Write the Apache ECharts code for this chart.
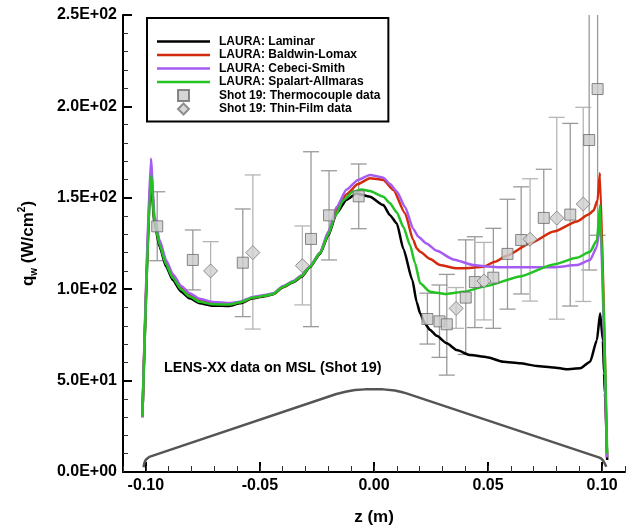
<!DOCTYPE html>
<html>
<head>
<meta charset="utf-8">
<script src="https://cdn.jsdelivr.net/npm/echarts@6/dist/echarts.min.js"></script>
<style>
  html, body { margin: 0; padding: 0; background: #fff; }
  #chart { width: 626px; height: 529px; }
</style>
</head>
<body>
<div id="chart"></div>
<script>
// Axis ticks
const xTicks = [-0.10, -0.05, 0.00, 0.05, 0.10];
const xMinorTicks = [-0.11, -0.10, -0.09, -0.08, -0.07, -0.06, -0.05, -0.04, -0.03, -0.02, -0.01, 0.00,
                     0.01, 0.02, 0.03, 0.04, 0.05, 0.06, 0.07, 0.08, 0.09, 0.10, 0.11];
const yTicks = [0, 50, 100, 150, 200, 250];

// LAURA heating predictions along the MSL centerline, [z (m), q_w (W/cm^2)]
const laminar = [
  [-0.1015, 30], [-0.0978, 160], [-0.0962, 136], [-0.0940, 123.3], [-0.0911, 112.3], [-0.0882, 105],
  [-0.0845, 98.6], [-0.0808, 95], [-0.0764, 92.3], [-0.0706, 91], [-0.0633, 90.8], [-0.0588, 92.3],
  [-0.0529, 95], [-0.0471, 96.3], [-0.0442, 97.2], [-0.0398, 101], [-0.0354, 103.8], [-0.0317, 106.8],
  [-0.0281, 112], [-0.0237, 119.3], [-0.0200, 129.5], [-0.0164, 141.5], [-0.0120, 149], [-0.0076, 152.4],
  [-0.0018, 150.6], [0.0041, 146], [0.0070, 140.5], [0.0100, 136], [0.0129, 122], [0.0168, 105],
  [0.0187, 93], [0.0202, 86.8], [0.0224, 81], [0.0246, 77.7], [0.0275, 74.5], [0.0319, 70.4],
  [0.0363, 66.7], [0.0421, 64], [0.0495, 62.8], [0.0567, 60.3], [0.0640, 59.5], [0.0714, 58],
  [0.0787, 57.2], [0.0845, 56.2], [0.0904, 56.7], [0.0947, 60.3], [0.0977, 72.2], [0.0991, 86.8],
  [0.1003, 72], [0.1008, 54], [0.1012, 43], [0.1022, 6.6]
];
const baldwinLomax = [
  [-0.1015, 30], [-0.0978, 166], [-0.0962, 138.5], [-0.0940, 125.5], [-0.0911, 114.5], [-0.0882, 107.2],
  [-0.0845, 100.8], [-0.0808, 97], [-0.0764, 94], [-0.0706, 92.4], [-0.0633, 91.8], [-0.0588, 92.8],
  [-0.0529, 95.4], [-0.0471, 96.6], [-0.0442, 97.5], [-0.0398, 101.4], [-0.0354, 104.2], [-0.0317, 107.2],
  [-0.0281, 112.4], [-0.0237, 119.8], [-0.0200, 130.5], [-0.0164, 143.5], [-0.0120, 152], [-0.0070, 157.5],
  [-0.0018, 160.7], [0.0041, 159.8], [0.0085, 154.3], [0.0136, 141.5], [0.0172, 126.9], [0.0187, 122.4],
  [0.0202, 120.5], [0.0246, 116.5], [0.0289, 113.2], [0.0363, 111.4], [0.0420, 111.6], [0.0479, 112.3],
  [0.0530, 115], [0.0582, 118.3], [0.0684, 125.1], [0.0787, 131.5], [0.0889, 137], [0.0940, 140.8],
  [0.0962, 143], [0.0980, 148.8], [0.0990, 163.5], [0.1021, 8]
];
const cebeciSmith = [
  [-0.1015, 30], [-0.0978, 171.5], [-0.0962, 140], [-0.0940, 127], [-0.0911, 115.8], [-0.0882, 108.3],
  [-0.0845, 101.8], [-0.0808, 97.8], [-0.0764, 94.8], [-0.0706, 93], [-0.0633, 92.4], [-0.0588, 93.2],
  [-0.0529, 95.8], [-0.0471, 97], [-0.0442, 97.8], [-0.0398, 101.7], [-0.0354, 104.5], [-0.0317, 107.6],
  [-0.0281, 112.6], [-0.0237, 120], [-0.0200, 131.5], [-0.0164, 145], [-0.0120, 154.5], [-0.0070, 159.8],
  [-0.0018, 162.5], [0.0041, 161], [0.0070, 157.5], [0.0100, 153.5], [0.0136, 145], [0.0172, 133],
  [0.0194, 128.7], [0.0230, 125], [0.0275, 121], [0.0348, 116.3], [0.0436, 113.2], [0.0494, 112.4],
  [0.0567, 112], [0.0714, 112], [0.0787, 112], [0.0889, 113.2], [0.0947, 116], [0.0977, 123.2],
  [0.0991, 138], [0.1021, 8]
];
const spalartAllmaras = [
  [-0.1015, 30.3], [-0.0977, 162.5], [-0.0962, 137.3], [-0.0940, 124.5], [-0.0911, 113.5], [-0.0882, 106.2],
  [-0.0845, 99.8], [-0.0808, 96], [-0.0764, 93.1], [-0.0706, 91.7], [-0.0632, 91.6], [-0.0588, 92.8],
  [-0.0529, 95.4], [-0.0471, 96.5], [-0.0442, 97.4], [-0.0398, 101.4], [-0.0354, 104.1], [-0.0317, 107.2],
  [-0.0281, 112.3], [-0.0237, 119.6], [-0.0200, 130], [-0.0171, 139.7], [-0.0135, 148.5], [-0.0093, 153.3],
  [-0.0054, 154.6], [-0.0018, 153.7], [0.0041, 150.6], [0.0070, 147], [0.0100, 142], [0.0129, 134],
  [0.0158, 124], [0.0180, 114.2], [0.0202, 103.2], [0.0246, 98.6], [0.0275, 98], [0.0319, 97.4],
  [0.0392, 98.6], [0.0494, 101.8], [0.0640, 107], [0.0787, 113.5], [0.0889, 117.2], [0.0947, 120.5],
  [0.0977, 126.9], [0.0991, 146], [0.1022, 10]
];

// Model outline sketched under the data (same axes): straight flanks, rounded nose and shoulders
const bodyOutline = [
  [-0.1010, 2.6], [-0.1006, 5.0], [-0.1000, 6.7], [-0.0993, 7.7], [-0.0985, 8.3],
  [-0.0165, 42.7], [-0.0120, 44.0], [-0.0083, 44.8], [-0.0040, 45.2], [0.0003, 45.3], [0.0040, 45.2],
  [0.0092, 44.6], [0.0120, 43.8], [0.0142, 43.0],
  [0.0985, 8.0], [0.0995, 7.4], [0.1004, 6.2], [0.1012, 4.5], [0.1018, 2.9]
];

// Shot 19 measurements, [z, q_w, lower, upper]
const thermocouple = [
  [-0.0950, 134.4, 115.6, 153.3], [-0.0794, 116.0, 99.6, 132.4], [-0.0575, 114.5, 85.0, 143.9],
  [-0.0276, 127.5, 79.5, 175.2], [-0.0197, 140.4, 116.0, 164.8], [-0.0067, 150.8, 133.1, 168.5],
  [0.0234, 83.7, 70.0, 97.8], [0.0287, 82.4, 62.7, 102.3], [0.0319, 80.8, 53.0, 108.1],
  [0.0402, 95.4, 64.3, 127.0], [0.0442, 103.9, 79.0, 128.7], [0.0523, 106.3, 78.6, 133.3],
  [0.0585, 119.3, 89.1, 149.2], [0.0645, 126.9, 97.4, 156.0], [0.0744, 139.0, 112.0, 165.6],
  [0.0860, 140.8, 90.8, 190.7], [0.0943, 181.6, 110.5, 300.0], [0.0980, 209.5, 129.5, 300.0]
];
const thinFilm = [
  [-0.0716, 110.0, 93.0, 126.0], [-0.0531, 120.0, 78.2, 162.5], [-0.0314, 112.9, 91.4, 134.6],
  [0.0360, 89.5, 78.6, 100.9], [0.0482, 104.5, 83.2, 125.6], [0.0684, 127.3, 93.5, 160.4],
  [0.0801, 138.9, 83.6, 194.0], [0.0917, 146.6, 93.3, 199.5]
];

const FONT = '"Liberation Sans", Arial, Helvetica, sans-serif';

// Legend glyphs: a plain stroke for the solutions, small markers for the measurements
const LINE_ICON = 'path://M0,0L100,0L100,4.7L0,4.7Z';
const SQUARE_ICON = 'path://M0,0L10,0L10,10L0,10Z';
const DIAMOND_ICON = 'path://M5,0L10,5L5,10L0,5Z';

function sciLabel(v) {
  if (v === 0) return '0.0E+00';
  const e = Math.floor(Math.log10(Math.abs(v)) + 1e-9);
  const m = v / Math.pow(10, e);
  return m.toFixed(1) + 'E' + (e < 0 ? '-' : '+') + String(Math.abs(e)).padStart(2, '0');
}

function errorBars(color) {
  return function (params, api) {
    const z = api.value(0);
    const top = api.coord([z, api.value(3)]);
    const bot = api.coord([z, api.value(2)]);
    const half = 8;
    const style = { stroke: color, lineWidth: 1.3, fill: null };
    return {
      type: 'group',
      children: [
        { type: 'line', shape: { x1: top[0], y1: top[1], x2: bot[0], y2: bot[1] }, style: style },
        { type: 'line', shape: { x1: top[0] - half, y1: top[1], x2: top[0] + half, y2: top[1] }, style: style },
        { type: 'line', shape: { x1: bot[0] - half, y1: bot[1], x2: bot[0] + half, y2: bot[1] }, style: style }
      ]
    };
  };
}

function curve(name, data, color) {
  return {
    name: name, type: 'line', data: data, symbol: 'none',
    smooth: 0.2, smoothMonotone: 'x',
    lineStyle: { color: color, width: 2.5 }, itemStyle: { color: color }, z: 3
  };
}

const chart = echarts.init(document.getElementById('chart'), null, { renderer: 'canvas' });
chart.setOption({
  animation: false,
  backgroundColor: '#fff',
  grid: { left: 123, right: 1, top: 15, bottom: 57, outerBoundsMode: 'none', containLabel: false },
  legend: {
    orient: 'vertical', left: 147, top: 18,
    padding: [17, 8, 6, 10], itemGap: 0.5, itemWidth: 53, itemHeight: 11,
    symbolKeepAspect: true,
    backgroundColor: '#fff', borderColor: '#000', borderWidth: 2, borderRadius: 0,
    textStyle: { fontFamily: FONT, fontWeight: 'bold', fontSize: 12, lineHeight: 13, color: '#000', padding: [0, 0, 0, 4] },
    data: [
      { name: 'LAURA: Laminar', icon: LINE_ICON },
      { name: 'LAURA: Baldwin-Lomax', icon: LINE_ICON },
      { name: 'LAURA: Cebeci-Smith', icon: LINE_ICON },
      { name: 'LAURA: Spalart-Allmaras', icon: LINE_ICON },
      { name: 'Shot 19: Thermocouple data', icon: SQUARE_ICON },
      { name: 'Shot 19: Thin-Film data', icon: DIAMOND_ICON }
    ],
    z: 20
  },
  xAxis: [{
    type: 'value', min: -0.11, max: 0.11, position: 'bottom',
    axisLine: { show: true, onZero: false, lineStyle: { color: '#000', width: 2 } },
    axisTick: { show: true, inside: true, length: 10, customValues: xTicks, lineStyle: { color: '#000', width: 2 } },
    axisLabel: { customValues: xTicks, formatter: v => v.toFixed(2), fontFamily: FONT, fontWeight: 'bold', fontSize: 16, color: '#000', margin: 6 },
    splitLine: { show: false },
    name: 'z (m)', nameLocation: 'middle', nameGap: 37,
    nameTextStyle: { fontFamily: FONT, fontWeight: 'bold', fontSize: 17, color: '#000' }
  }, {
    type: 'value', min: -0.11, max: 0.11, position: 'bottom',
    axisLine: { show: false },
    axisTick: { show: true, inside: true, length: 6, customValues: xMinorTicks, lineStyle: { color: '#333', width: 1 } },
    axisLabel: { show: false },
    splitLine: { show: false }
  }],
  yAxis: {
    type: 'value', min: 0, max: 250, interval: 50,
    axisLine: { show: true, onZero: false, lineStyle: { color: '#000', width: 2 } },
    axisTick: { show: true, inside: true, length: 9, lineStyle: { color: '#000', width: 2 } },
    minorTick: { show: true, splitNumber: 5, length: 5, lineStyle: { color: '#333', width: 1 } },
    axisLabel: { formatter: sciLabel, fontFamily: FONT, fontWeight: 'bold', fontSize: 16, color: '#000', margin: 6 },
    splitLine: { show: false },
    name: '{t|q}{sub|w}{t| (W/cm}{sup|2}{t|)}',
    nameLocation: 'middle', nameGap: 84,
    nameTextStyle: {
      fontFamily: FONT, fontWeight: 'bold', color: '#000',
      rich: {
        t: { fontFamily: FONT, fontWeight: 'bold', fontSize: 17, lineHeight: 22, color: '#000' },
        sub: { fontFamily: FONT, fontWeight: 'bold', fontSize: 10, verticalAlign: 'bottom', color: '#000' },
        sup: { fontFamily: FONT, fontWeight: 'bold', fontSize: 10, verticalAlign: 'top', color: '#000' }
      }
    }
  },
  graphic: [{
    type: 'text', left: 164, top: 361, z: 10,
    style: { text: 'LENS-XX data on MSL (Shot 19)', font: 'bold 14.4px ' + FONT, fill: '#000' }
  }],
  series: [
    {
      name: 'thermocouple-error', type: 'custom', data: thermocouple, encode: { x: 0, y: 1 },
      renderItem: errorBars('#9a9a9a'), clip: true, z: 1, silent: true
    },
    {
      name: 'thinfilm-error', type: 'custom', data: thinFilm, encode: { x: 0, y: 1 },
      renderItem: errorBars('#b5b5b5'), clip: true, z: 1, silent: true
    },
    {
      name: 'outline', type: 'line', data: bodyOutline, symbol: 'none', smooth: false,
      lineStyle: { color: '#555', width: 2.5, join: 'round' }, z: 2
    },
    curve('LAURA: Laminar', laminar, '#000000'),
    curve('LAURA: Baldwin-Lomax', baldwinLomax, '#d42a0c'),
    curve('LAURA: Cebeci-Smith', cebeciSmith, '#a65cf2'),
    curve('LAURA: Spalart-Allmaras', spalartAllmaras, '#22c322'),
    {
      name: 'Shot 19: Thermocouple data', type: 'scatter', data: thermocouple, encode: { x: 0, y: 1 },
      symbol: 'rect', symbolSize: 11,
      itemStyle: { color: '#cacaca', borderColor: '#6a6a6a', borderWidth: 1 }, z: 5
    },
    {
      name: 'Shot 19: Thin-Film data', type: 'scatter', data: thinFilm, encode: { x: 0, y: 1 },
      symbol: 'diamond', symbolSize: 14,
      itemStyle: { color: '#d0d0d0', borderColor: '#777', borderWidth: 1 }, z: 5
    }
  ]
});
</script>
</body>
</html>
